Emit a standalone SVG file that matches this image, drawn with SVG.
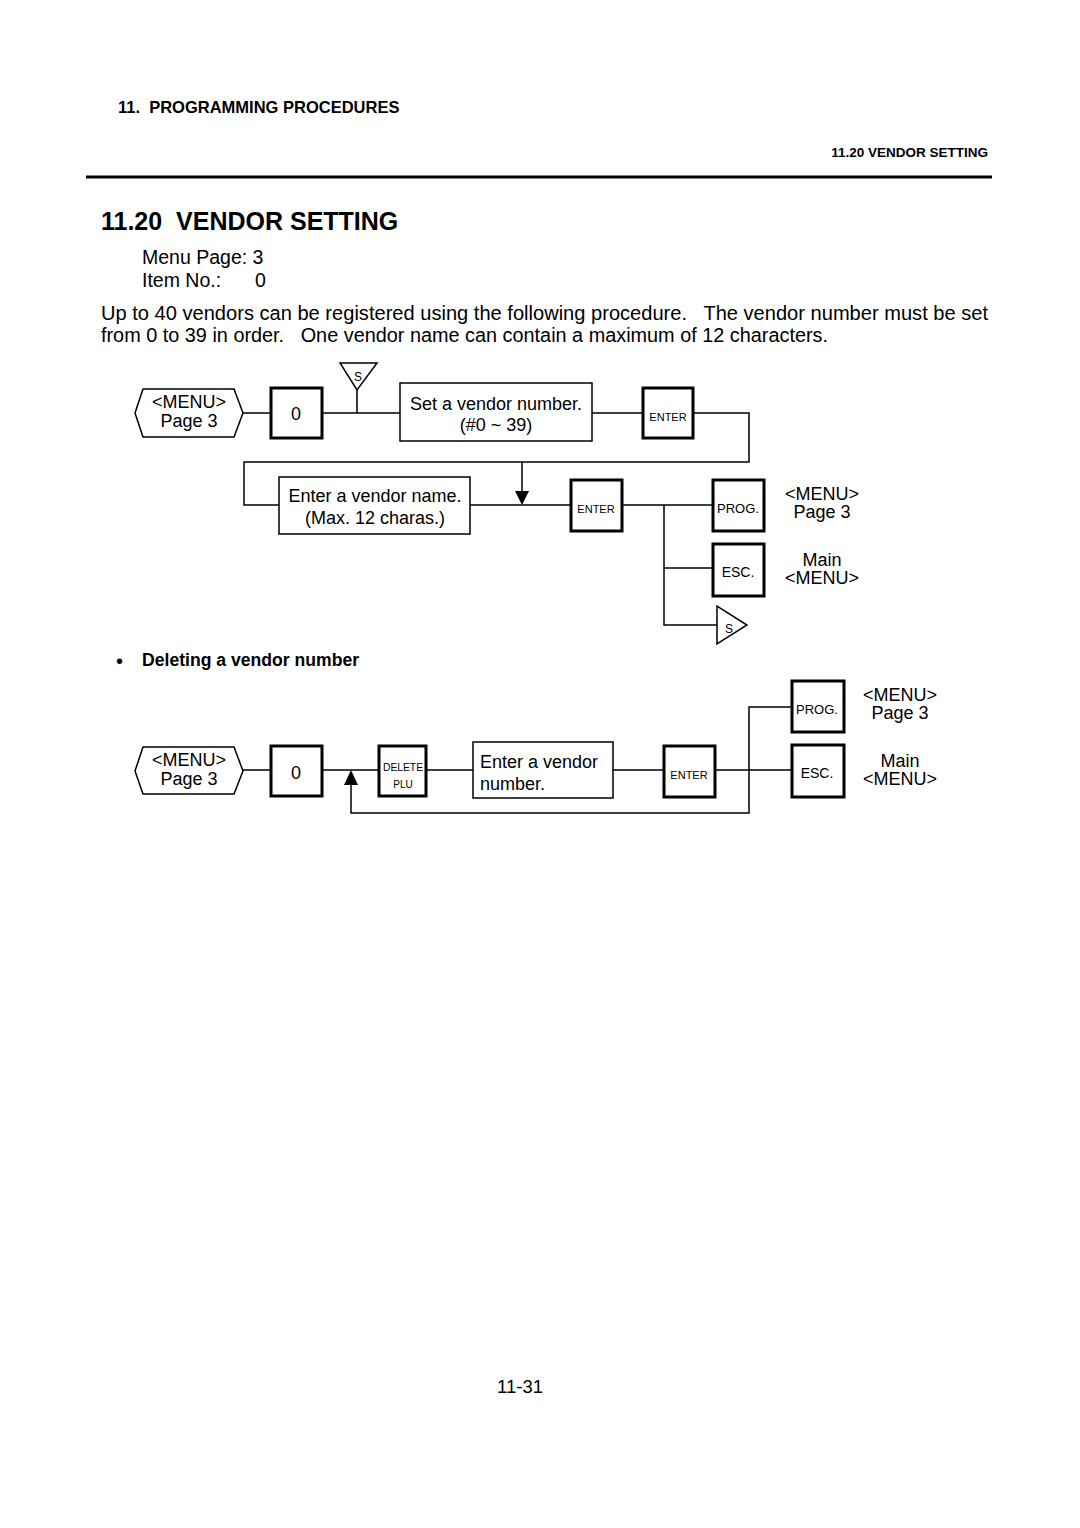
<svg xmlns="http://www.w3.org/2000/svg" width="1080" height="1528" viewBox="0 0 1080 1528">
<style>
text{font-family:"Liberation Sans",Arial,sans-serif;fill:#000;white-space:pre}
.b{font-weight:bold}
.t{font-size:18px}
.c{text-anchor:middle}
.key{fill:#fff;stroke:#000;stroke-width:3}
.box{fill:#fff;stroke:#000;stroke-width:1.5}
.k{font-size:11px;text-anchor:middle}
.p{font-size:13px;text-anchor:middle}
.e{font-size:14px;text-anchor:middle}
.ln{fill:none;stroke:#000;stroke-width:1.5}
</style>
<rect width="1080" height="1528" fill="#fff"/>
<text x="118" y="113" class="b" font-size="16.5" xml:space="preserve">11.  PROGRAMMING PROCEDURES</text>
<text x="988" y="157" class="b" font-size="13.5" text-anchor="end">11.20 VENDOR SETTING</text>
<line x1="86" y1="177" x2="992" y2="177" stroke="#000" stroke-width="3"/>
<text x="101" y="230" class="b" font-size="25" xml:space="preserve">11.20  VENDOR SETTING</text>
<text x="142" y="264" font-size="19.5">Menu Page: 3</text>
<text x="142" y="287" font-size="19.5">Item No.:</text>
<text x="255" y="287" font-size="19.5">0</text>
<text x="101" y="320" font-size="19.5" xml:space="preserve" textLength="887" lengthAdjust="spacingAndGlyphs">Up to 40 vendors can be registered using the following procedure.   The vendor number must be set</text>
<text x="101" y="342" font-size="19.5" xml:space="preserve" textLength="727" lengthAdjust="spacingAndGlyphs">from 0 to 39 in order.   One vendor name can contain a maximum of 12 characters.</text>

<g id="connectors">
<path class="ln" d="M243 413H270M322 413H400M357 390V413M592 413H642M693 413H749V462H244V505H279M522 462V492M470 505H572M623 505H713M664 505V625H717M664 568H713"/>
<path d="M515 491L529 491L522 505Z"/>
<path class="ln" d="M243 770H272M322 770H378M426 770H473M613 770H664M715 770H792M351 784V813H749V707H792"/>
<path d="M344 785L358 785L351 770Z"/>
</g>

<g id="menu1"><path class="box" d="M143 389H234L243 413L234 437H143L135 413Z"/><text x="189" y="408" class="t c">&lt;MENU&gt;</text><text x="189" y="427" class="t c">Page 3</text></g>
<g id="key0a"><rect class="key" x="271" y="388" width="51" height="50"/><text x="296" y="420" class="t c">0</text></g>
<g id="s1"><path class="box" d="M340 363H377L357 390Z"/><text x="358" y="381" font-size="12" class="c">S</text></g>
<g id="setnum"><rect class="box" x="400" y="383" width="192" height="58"/><text x="496" y="410" class="t c">Set a vendor number.</text><text x="496" y="431" class="t c">(#0 ~ 39)</text></g>
<g id="enter1"><rect class="key" x="643" y="388" width="50" height="50"/><text x="668" y="421" class="k">ENTER</text></g>
<g id="entername"><rect class="box" x="279" y="477" width="191" height="57"/><text x="375" y="502" class="t c">Enter a vendor name.</text><text x="375" y="524" class="t c">(Max. 12 charas.)</text></g>
<g id="enter2"><rect class="key" x="571" y="480" width="51" height="51"/><text x="596" y="513" class="k">ENTER</text></g>
<g id="prog1"><rect class="key" x="713" y="480" width="51" height="51"/><text x="738" y="513" class="p">PROG.</text></g>
<g id="esc1"><rect class="key" x="713" y="544" width="51" height="52"/><text x="738" y="577" class="e">ESC.</text></g>
<g id="s2"><path class="box" d="M717 606V644L747 625Z"/><text x="729" y="633" font-size="12" class="c">S</text></g>
<g id="lab1"><text x="822" y="500" class="t c">&lt;MENU&gt;</text><text x="822" y="518" class="t c">Page 3</text></g>
<g id="lab2"><text x="822" y="566" class="t c">Main</text><text x="822" y="584" class="t c">&lt;MENU&gt;</text></g>

<text x="116" y="668" font-size="20">•</text>
<text x="142" y="666" class="b" font-size="17.6">Deleting a vendor number</text>

<g id="menu2"><path class="box" d="M143 747H234L243 771L234 794H143L135 771Z"/><text x="189" y="766" class="t c">&lt;MENU&gt;</text><text x="189" y="785" class="t c">Page 3</text></g>
<g id="key0b"><rect class="key" x="271" y="746" width="51" height="50"/><text x="296" y="779" class="t c">0</text></g>
<g id="delete"><rect class="key" x="379" y="746" width="47" height="50"/><text x="403" y="771" font-size="10" class="c" textLength="40" lengthAdjust="spacingAndGlyphs">DELETE</text><text x="403" y="788" font-size="10" class="c">PLU</text></g>
<g id="enternum"><rect class="box" x="473" y="742" width="140" height="56"/><text x="480" y="768" class="t">Enter a vendor</text><text x="480" y="790" class="t">number.</text></g>
<g id="enter3"><rect class="key" x="664" y="746" width="51" height="51"/><text x="689" y="779" class="k">ENTER</text></g>
<g id="prog2"><rect class="key" x="792" y="681" width="52" height="51"/><text x="817" y="714" class="p">PROG.</text></g>
<g id="esc2"><rect class="key" x="792" y="745" width="52" height="52"/><text x="817" y="778" class="e">ESC.</text></g>
<g id="lab3"><text x="900" y="701" class="t c">&lt;MENU&gt;</text><text x="900" y="719" class="t c">Page 3</text></g>
<g id="lab4"><text x="900" y="767" class="t c">Main</text><text x="900" y="785" class="t c">&lt;MENU&gt;</text></g>

<text x="520" y="1393" font-size="18.5" class="c">11-31</text>
</svg>
